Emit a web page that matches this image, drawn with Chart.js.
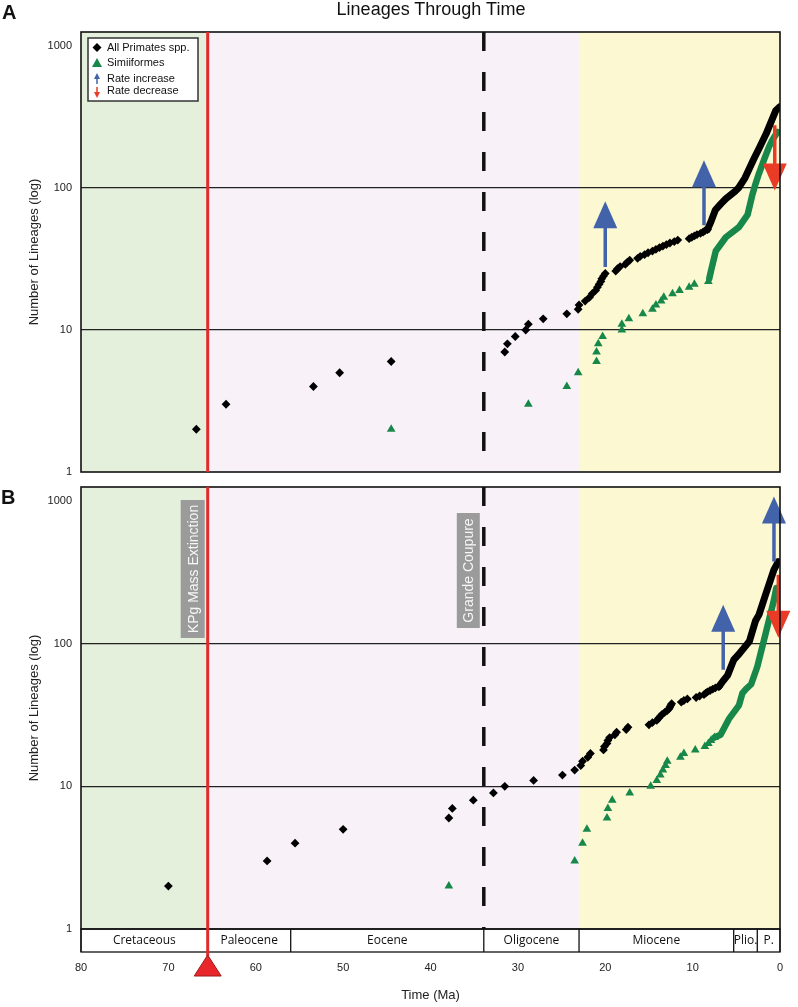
<!DOCTYPE html>
<html><head><meta charset="utf-8">
<script src="https://cdn.jsdelivr.net/npm/chart.js@4.4.1/dist/chart.umd.min.js"></script>
<style>
html,body{margin:0;padding:0;background:#fff;}
#wrap{position:relative;width:798px;height:1007px;overflow:hidden;}
canvas{position:absolute;left:0;}
#cA{top:0;} #cB{top:480px;}
.t{position:absolute;font-family:'Liberation Sans',Arial,sans-serif;color:#111;line-height:1;white-space:nowrap;z-index:2;}
</style></head><body>
<div id="wrap">
<canvas id="cA" width="798" height="480"></canvas>
<canvas id="cB" width="798" height="527"></canvas>
<div class="t" style="left:431px;top:0px;font-size:18px;transform:translateX(-50%);">Lineages Through Time</div>
<div class="t" style="left:2px;top:2px;font-size:20px;font-weight:bold;">A</div>
<div class="t" style="left:1px;top:487px;font-size:20px;font-weight:bold;">B</div>
</div>
<script>
// ---------- data (time in Ma, number of lineages) ----------
const xTickValues = [80,70,60,50,40,30,20,10,0];
const yTickValues = [1,10,100,1000];
const yTickLabels = ['1','10','100','1000'];
const epochNames  = ['Cretaceous','Paleocene','Eocene','Oligocene','Miocene','Plio.','P.'];
const epochBounds = [80,65.5,56,33.9,23,5.3,2.6,0];
const bandBounds  = [80,65.5,23,0];
const kpgTime = 65.5;
const grandeCoupureTime = 33.9;
const legendLabels = ['All Primates spp.','Simiiformes','Rate increase','Rate decrease'];

const primatesA = [[66.8,2],[63.4,3],[53.4,4],[50.4,5],[44.5,6],[31.5,7],[31.2,8],[30.3,9],[29.1,10],[28.8,11],[27.1,12],[24.4,13],[23.1,14],[23.0,15],[22.3,16],[21.8,17],[21.5,18],[21.1,19],[20.9,20],[20.7,21],[20.5,22],[20.4,23],[20.2,24],[20.0,25],[18.8,26],[18.6,27],[18.3,28],[17.7,29],[17.5,30],[17.2,31],[16.3,32],[16.0,33],[15.5,34],[15.1,35],[14.6,36],[14.2,37],[13.8,38],[13.4,39],[13.0,40],[12.6,41],[12.1,42],[11.7,43],[10.4,44],[10.1,45],[9.8,46],[9.5,47],[9.1,48],[8.8,49],[8.6,50],[8.3,51]];
const primatesDenseA = [[8.3,51],[7.9,58],[7.4,70],[6.8,77],[6.2,84],[5.2,94],[4.7,101],[4.0,118],[3.0,160],[2.4,190],[1.6,240],[0.5,350],[0.05,373]];
const simiA = [[44.5,2],[28.8,3],[24.4,4],[23.1,5],[21.0,6],[21.0,7],[20.8,8],[20.3,9],[18.1,10],[18.1,11],[17.3,12],[15.7,13],[14.6,14],[14.2,15],[13.6,16],[13.3,17],[12.3,18],[11.5,19],[10.4,20],[9.8,21],[8.2,22]];
const simiDenseA = [[8.1,23],[7.9,26],[7.35,36],[6.2,45],[4.7,53],[3.7,65],[3.2,88],[2.8,107],[2.4,127],[1.8,160],[1.26,195],[0.9,216],[0.3,248]];
const rateUpA = [[20.0,27.8,80.8],[8.7,54.7,157]];      // [time, from, to]
const rateDownA = [[0.6,277,96]];

const primatesB = [[70.0,2],[58.7,3],[55.5,4],[50.0,5],[37.9,6],[37.5,7],[35.1,8],[32.8,9],[31.5,10],[28.2,11],[24.9,12],[23.5,13],[22.8,14],[22.6,15],[22.0,16],[21.7,17],[20.2,18],[20.1,19],[19.8,20],[19.7,21],[19.5,22],[18.9,23],[18.7,24],[17.6,25],[17.4,26],[15.0,27],[14.6,28],[14.1,29],[13.9,30],[13.7,31],[13.5,32],[13.2,33],[12.9,34],[12.7,35],[12.6,36],[12.5,37],[12.4,38],[11.3,39],[11.0,40],[10.6,41],[9.6,42],[9.2,43],[8.7,44],[8.5,45],[8.3,46],[8.0,47],[7.7,48],[7.4,49],[7.0,50]];
const primatesDenseB = [[7.0,50],[6.5,55],[6.0,60],[5.3,77],[4.6,86],[3.9,97],[3.5,104],[2.8,145],[2.4,160],[1.6,226],[0.7,330],[0.2,377]];
const simiB = [[37.9,2],[23.5,3],[22.6,4],[22.1,5],[19.8,6],[19.7,7],[19.2,8],[17.2,9],[14.8,10],[14.1,11],[13.7,12],[13.4,13],[13.1,14],[12.9,15],[11.4,16],[11.0,17],[9.7,18],[8.6,19],[8.2,20],[7.9,21],[7.5,22]];
const simiDenseB = [[7.5,22],[6.8,23],[5.8,30],[4.7,37],[4.3,45],[3.9,48],[3.3,52],[2.6,69],[1.63,119],[0.69,203],[0.42,246]];
const rateUpB = [[6.5,65.7,188],[0.69,377,1077]];
const rateDownB = [[0.19,304,110]];

// ---------- drawing ----------
const FONT = "'Liberation Sans', Arial, sans-serif";
Chart.defaults.font.family = FONT;
const BLUE = '#4262aa', RED_ARROW = '#ea3b27', RED_LINE = '#e22a2c', GREEN = '#17874a';
const toXY = arr => arr.map(([t,v]) => ({x:t, y:v}));

function arrow(ctx, x, y0, y1, color, shaftW, headW, headH){
  const dir = y1 < y0 ? -1 : 1;
  const base = y1 - dir*headH;
  ctx.save();
  ctx.strokeStyle = color; ctx.fillStyle = color; ctx.lineWidth = shaftW; ctx.lineCap='butt';
  ctx.beginPath(); ctx.moveTo(x, y0); ctx.lineTo(x, base + dir*1); ctx.stroke();
  ctx.beginPath(); ctx.moveTo(x, y1); ctx.lineTo(x-headW/2, base); ctx.lineTo(x+headW/2, base); ctx.closePath(); ctx.fill();
  ctx.restore();
}

const decor = {
  id: 'decor',
  beforeDraw(chart, args, o){
    const {ctx, chartArea:a, scales:{x}} = chart;
    const cols = ['#e4efdc','#f8f2f8','#fbf8d2'];
    for (let i=0;i<3;i++){
      const x0 = x.getPixelForValue(bandBounds[i]), x1 = x.getPixelForValue(bandBounds[i+1]);
      ctx.fillStyle = cols[i]; ctx.fillRect(x0, a.top, x1-x0, a.bottom-a.top);
    }
  },
  beforeDatasetsDraw(chart, args, o){
    const {ctx, chartArea:a, scales:{x}} = chart;
    const gx = x.getPixelForValue(grandeCoupureTime);
    ctx.save();
    ctx.strokeStyle = '#111'; ctx.lineWidth = 3.5; ctx.setLineDash([19,21]); ctx.lineDashOffset = 0;
    ctx.beginPath(); ctx.moveTo(gx, a.top); ctx.lineTo(gx, a.bottom); ctx.stroke();
    ctx.restore();
  },
  afterDatasetsDraw(chart, args, o){
    const {ctx, chartArea:a, scales:{x,y}} = chart;
    o.up.forEach(([t,v0,v1]) => arrow(ctx, x.getPixelForValue(t), y.getPixelForValue(v0), y.getPixelForValue(v1), BLUE, 3.5, 24, 27));
    o.down.forEach(([t,v0,v1]) => arrow(ctx, x.getPixelForValue(t), y.getPixelForValue(v0), y.getPixelForValue(v1), RED_ARROW, 3.5, 24, 27));
    if (o.panel === 'B'){
      const boxes = [[kpgTime,'KPg Mass Extinction',3,24,13,138],[grandeCoupureTime,'Grande Coupure',4,23,26,115]];
      boxes.forEach(([t,txt,gap,w,top,h]) => {
        const r = x.getPixelForValue(t) - gap;
        ctx.fillStyle = '#9b9b9b'; ctx.fillRect(r-w, a.top+top, w, h);
        ctx.save(); ctx.translate(r-w/2, a.top+top+h/2); ctx.rotate(-Math.PI/2);
        ctx.fillStyle = '#f7f7f7'; ctx.font = '14px '+FONT; ctx.textAlign='center'; ctx.textBaseline='middle';
        ctx.fillText(txt, 0, 1); ctx.restore();
      });
    }
    if (o.panel === 'A'){
      const L = a.left+7, T = a.top+6;
      ctx.fillStyle = '#fff'; ctx.fillRect(L, T, 110, 63);
      ctx.strokeStyle = '#333'; ctx.lineWidth = 1.5; ctx.strokeRect(L, T, 110, 63);
      const mx = L+9;
      ctx.fillStyle = '#000'; ctx.beginPath(); ctx.moveTo(mx, T+5); ctx.lineTo(mx+4.5, T+9.5); ctx.lineTo(mx, T+14); ctx.lineTo(mx-4.5, T+9.5); ctx.closePath(); ctx.fill();
      ctx.fillStyle = GREEN; ctx.beginPath(); ctx.moveTo(mx, T+20); ctx.lineTo(mx+5, T+29); ctx.lineTo(mx-5, T+29); ctx.closePath(); ctx.fill();
      arrow(ctx, mx, T+46, T+35, BLUE, 1.5, 6, 6);
      arrow(ctx, mx, T+49, T+60, RED_ARROW, 1.5, 6, 6);
      ctx.fillStyle = '#111'; ctx.font = '11px '+FONT; ctx.textAlign='left'; ctx.textBaseline='middle';
      const rows = [T+9.5, T+25, T+40.5, T+53];
      legendLabels.forEach((s,i) => ctx.fillText(s, L+19, rows[i]));
    }
  },
  afterDraw(chart, args, o){
    const {ctx, chartArea:a, scales:{x}} = chart;
    const kx = x.getPixelForValue(kpgTime);
    if (o.panel === 'B'){
      const eb = a.bottom, eh = 23;
      ctx.fillStyle = '#fff'; ctx.fillRect(a.left, eb, a.right-a.left, eh);
      ctx.strokeStyle = '#111'; ctx.lineWidth = 1.3;
      ctx.strokeRect(a.left, eb, a.right-a.left, eh);
      epochBounds.forEach(t => { const ex = x.getPixelForValue(t); ctx.beginPath(); ctx.moveTo(ex, eb); ctx.lineTo(ex, eb+eh); ctx.stroke(); });
      ctx.fillStyle = '#111'; ctx.font = "12px 'Open Sans', " + FONT; ctx.textAlign='center'; ctx.textBaseline='middle';
      epochNames.forEach((s,i) => {
        const c = (x.getPixelForValue(epochBounds[i]) + x.getPixelForValue(epochBounds[i+1]))/2;
        ctx.fillText(s, c, eb+eh/2);
      });
    }
    ctx.strokeStyle = '#111'; ctx.lineWidth = 1.6;
    ctx.strokeRect(a.left, a.top, a.right-a.left, a.bottom-a.top);
    const yEnd = o.panel === 'B' ? a.bottom + 27 : a.bottom;
    ctx.strokeStyle = RED_LINE; ctx.lineWidth = 3;
    ctx.beginPath(); ctx.moveTo(kx, a.top); ctx.lineTo(kx, yEnd); ctx.stroke();
    if (o.panel === 'B'){
      ctx.fillStyle = '#e8262b'; ctx.strokeStyle = '#9c1a1a'; ctx.lineWidth = 1;
      ctx.beginPath(); ctx.moveTo(kx, a.bottom+26); ctx.lineTo(kx+13.5, a.bottom+47); ctx.lineTo(kx-13.5, a.bottom+47); ctx.closePath(); ctx.fill(); ctx.stroke();
    }
  }
};

function makeChart(id, panel, sets, up, down){
  const [prim, primDense, simi, simiDense] = sets;
  const isB = panel === 'B';
  return new Chart(document.getElementById(id), {
    type: 'scatter',
    data: { datasets: [
      {data: toXY(primDense), showLine:true, borderColor:'#000', borderWidth:7, pointRadius:0, borderJoinStyle:'round', borderCapStyle:'round', order:0},
      {data: toXY(prim), pointStyle:'rectRot', pointRadius:4.4, backgroundColor:'#000', borderWidth:0, order:1},
      {data: toXY(simiDense), showLine:true, borderColor:GREEN, borderWidth:6.5, pointRadius:0, borderJoinStyle:'round', borderCapStyle:'round', order:2},
      {data: toXY(simi), pointStyle:'triangle', pointRadius:5, backgroundColor:GREEN, borderWidth:0, order:3}
    ]},
    options: {
      responsive:false, animation:false, events:[],
      layout:{padding:{top: isB ? 7 : 32, right:18, bottom: isB ? 0 : 8, left:0}},
      plugins:{legend:{display:false}, tooltip:{enabled:false}, decor:{panel, up, down}},
      scales:{
        x:{type:'linear', min:0, max:80, reverse:true, display:isB,
           afterFit(s){ if (isB) { s.height = 78; } s.paddingLeft = 0; s.paddingRight = 0; },
           afterBuildTicks(s){ s.ticks = xTickValues.map(v => ({value:v})); },
           grid:{display:false, drawTicks:false}, border:{display:false},
           ticks:{padding:32, autoSkip:false, maxRotation:0, color:'#222', font:{size:11}, callback:v => String(v)},
           title:{display:true, text:'Time (Ma)', color:'#222', font:{size:13}, padding:{top:0,bottom:4}}},
        y:{type:'logarithmic', min:1, max:1256,
           afterFit(s){ s.width = 81; s.paddingTop = 0; s.paddingBottom = 0; },
           afterBuildTicks(s){ s.ticks = yTickValues.map(v => ({value:v})); },
           grid:{drawTicks:false, lineWidth:1.2, color:c => (c.tick && (c.tick.value===10 || c.tick.value===100)) ? '#222' : 'rgba(0,0,0,0)'},
           border:{display:false},
           ticks:{padding:9, color:'#222', font:{size:11}, callback:v => { const i = yTickValues.indexOf(v); return i<0 ? '' : yTickLabels[i]; }},
           title:{display:true, text:'Number of Lineages (log)', color:'#222', font:{size:13}, padding:{top:27,bottom:0}}}
      }
    },
    plugins:[decor]
  });
}

makeChart('cA','A',[primatesA, primatesDenseA, simiA, simiDenseA], rateUpA, rateDownA);
makeChart('cB','B',[primatesB, primatesDenseB, simiB, simiDenseB], rateUpB, rateDownB);
</script>
</body></html>
